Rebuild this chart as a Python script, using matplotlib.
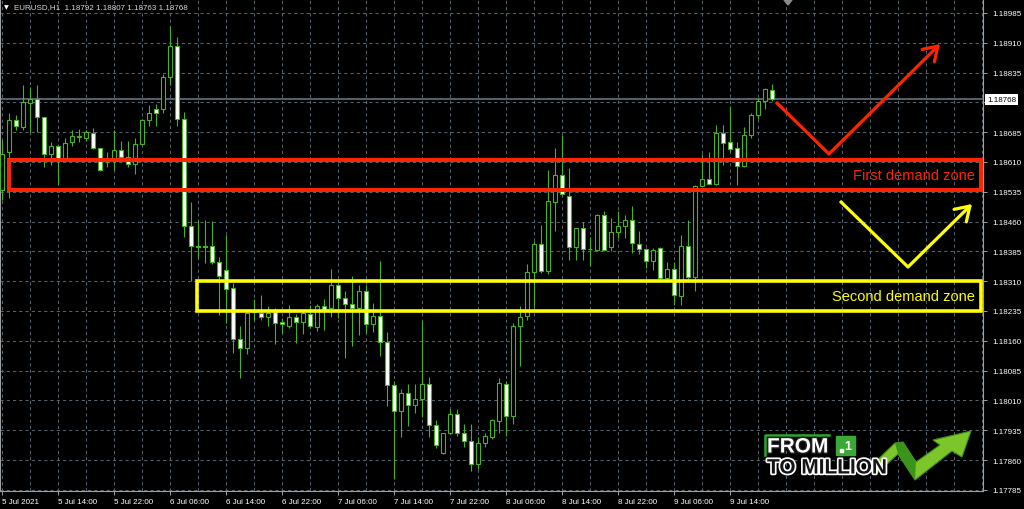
import numpy as np
import matplotlib
matplotlib.use('Agg')
import matplotlib.pyplot as plt
from matplotlib.patches import Rectangle, Polygon
import matplotlib.patheffects as pe

# EURUSD H1 candles, bar 0 = 5 Jul 2021 06:00
opens = [1.18540, 1.18634, 1.18715, 1.18698, 1.18759, 1.18769, 1.18722, 1.18631, 1.18650, 1.18619,
         1.18659, 1.18674, 1.18671, 1.18684, 1.18644, 1.18611, 1.18615, 1.18640, 1.18623, 1.18604,
         1.18654, 1.18715, 1.18743, 1.18742, 1.18824, 1.18901, 1.18717, 1.18450, 1.18397, 1.18398,
         1.18399, 1.18357, 1.18337, 1.18293, 1.18165, 1.18142, 1.18233, 1.18230, 1.18220, 1.18233,
         1.18207, 1.18197, 1.18219, 1.18208, 1.18228, 1.18194, 1.18247, 1.18243, 1.18301, 1.18268,
         1.18253, 1.18243, 1.18286, 1.18201, 1.18223, 1.18157, 1.18048, 1.17983, 1.18028, 1.17999,
         1.18013, 1.18052, 1.17948, 1.17877, 1.17927, 1.17975, 1.17929, 1.17907, 1.17850, 1.17902,
         1.17917, 1.17958, 1.18052, 1.17971, 1.18197, 1.18222, 1.18333, 1.18403, 1.18335, 1.18510,
         1.18577, 1.18524, 1.18396, 1.18443, 1.18391, 1.18389, 1.18477, 1.18397, 1.18433, 1.18450,
         1.18463, 1.18403, 1.18391, 1.18361, 1.18393, 1.18318, 1.18341, 1.18272, 1.18399, 1.18320,
         1.18550, 1.18566, 1.18555, 1.18683, 1.18661, 1.18644, 1.18600, 1.18677, 1.18729, 1.18763,
         1.18792]
highs = [1.18665, 1.18732, 1.18728, 1.18803, 1.18799, 1.18803, 1.18723, 1.18661, 1.18652, 1.18671,
         1.18690, 1.18694, 1.18690, 1.18696, 1.18646, 1.18636, 1.18690, 1.18662, 1.18662, 1.18669,
         1.18719, 1.18754, 1.18757, 1.18832, 1.18952, 1.18924, 1.18736, 1.18510, 1.18464, 1.18464,
         1.18462, 1.18372, 1.18425, 1.18305, 1.18197, 1.18233, 1.18264, 1.18276, 1.18247, 1.18243,
         1.18218, 1.18249, 1.18228, 1.18236, 1.18249, 1.18253, 1.18264, 1.18341, 1.18305, 1.18284,
         1.18322, 1.18301, 1.18301, 1.18255, 1.18361, 1.18182, 1.18059, 1.18038, 1.18050, 1.18050,
         1.18209, 1.18069, 1.17960, 1.17929, 1.17988, 1.17988, 1.17950, 1.17950, 1.17917, 1.17927,
         1.17963, 1.18067, 1.18059, 1.18205, 1.18247, 1.18353, 1.18412, 1.18452, 1.18590, 1.18646,
         1.18677, 1.18594, 1.18445, 1.18460, 1.18422, 1.18478, 1.18487, 1.18470, 1.18487, 1.18477,
         1.18498, 1.18435, 1.18393, 1.18393, 1.18395, 1.18357, 1.18357, 1.18425, 1.18464, 1.18552,
         1.18631, 1.18636, 1.18704, 1.18702, 1.18751, 1.18661, 1.18698, 1.18732, 1.18771, 1.18796,
         1.18807]
lows = [1.18514, 1.18519, 1.18690, 1.18690, 1.18686, 1.18686, 1.18598, 1.18602, 1.18552, 1.18609,
        1.18650, 1.18659, 1.18662, 1.18642, 1.18588, 1.18598, 1.18590, 1.18621, 1.18598, 1.18579,
        1.18652, 1.18701, 1.18701, 1.18734, 1.18803, 1.18701, 1.18422, 1.18310, 1.18368, 1.18356,
        1.18353, 1.18226, 1.18205, 1.18130, 1.18067, 1.18127, 1.18213, 1.18213, 1.18197, 1.18151,
        1.18180, 1.18191, 1.18155, 1.18176, 1.18192, 1.18184, 1.18188, 1.18219, 1.18218, 1.18117,
        1.18146, 1.18174, 1.18180, 1.18182, 1.18121, 1.17996, 1.17812, 1.17917, 1.17946, 1.17979,
        1.17967, 1.17918, 1.17890, 1.17875, 1.17925, 1.17921, 1.17892, 1.17833, 1.17837, 1.17892,
        1.17913, 1.17929, 1.17921, 1.17950, 1.18096, 1.18213, 1.18244, 1.18330, 1.18328, 1.18435,
        1.18527, 1.18364, 1.18364, 1.18364, 1.18347, 1.18387, 1.18387, 1.18387, 1.18418, 1.18418,
        1.18381, 1.18378, 1.18343, 1.18339, 1.18314, 1.18314, 1.18249, 1.18251, 1.18316, 1.18286,
        1.18548, 1.18554, 1.18552, 1.18602, 1.18636, 1.18552, 1.18598, 1.18671, 1.18717, 1.18743,
        1.18763]
closes = [1.18631, 1.18715, 1.18701, 1.18761, 1.18769, 1.18722, 1.18631, 1.18650, 1.18619, 1.18658,
          1.18676, 1.18676, 1.18686, 1.18644, 1.18590, 1.18609, 1.18640, 1.18623, 1.18605, 1.18654,
          1.18715, 1.18733, 1.18732, 1.18824, 1.18901, 1.18717, 1.18450, 1.18399, 1.18396, 1.18396,
          1.18357, 1.18322, 1.18291, 1.18165, 1.18142, 1.18230, 1.18234, 1.18220, 1.18230, 1.18205,
          1.18201, 1.18219, 1.18208, 1.18230, 1.18197, 1.18247, 1.18238, 1.18301, 1.18268, 1.18253,
          1.18243, 1.18284, 1.18201, 1.18223, 1.18157, 1.18048, 1.17983, 1.18028, 1.17999, 1.18013,
          1.18052, 1.17948, 1.17897, 1.17927, 1.17975, 1.17927, 1.17907, 1.17850, 1.17903, 1.17921,
          1.17960, 1.18055, 1.17971, 1.18197, 1.18219, 1.18333, 1.18403, 1.18335, 1.18512, 1.18577,
          1.18529, 1.18396, 1.18443, 1.18391, 1.18390, 1.18477, 1.18389, 1.18433, 1.18450, 1.18463,
          1.18406, 1.18391, 1.18361, 1.18389, 1.18318, 1.18341, 1.18274, 1.18399, 1.18320, 1.18550,
          1.18566, 1.18555, 1.18683, 1.18658, 1.18642, 1.18600, 1.18677, 1.18729, 1.18763, 1.18793,
          1.18768]

price_levels = [1.18985, 1.18910, 1.18835, 1.18760, 1.18685, 1.18610, 1.18535, 1.18460, 1.18385,
                1.18310, 1.18235, 1.18160, 1.18085, 1.18010, 1.17935, 1.17860, 1.17785]
time_ticks = [0, 8, 16, 24, 32, 40, 48, 56, 64, 72, 80, 88, 96, 104]
time_labels = ['5 Jul 2021', '5 Jul 14:00', '5 Jul 22:00', '6 Jul 06:00', '6 Jul 14:00',
               '6 Jul 22:00', '7 Jul 06:00', '7 Jul 14:00', '7 Jul 22:00', '8 Jul 06:00',
               '8 Jul 14:00', '8 Jul 22:00', '9 Jul 06:00', '9 Jul 14:00']
last_price = 1.18768

# demand zones (price bands + first bar they start at)
first_zone = (1.18540, 1.18615)
first_zone_start = 1.1
second_zone = (1.18236, 1.18311)
second_zone_start = 27.85

green = '#46b320'
font = 'Liberation Sans'

fig = plt.figure(figsize=(10.24, 5.10), dpi=100, facecolor='black')
ax = fig.add_axes([0, 18 / 510, 983 / 1024, 492 / 510])
ax.set_facecolor('black')

x = np.arange(len(opens))
o = np.array(opens)
h = np.array(highs)
l = np.array(lows)
c = np.array(closes)
up = c >= o

# candles
ax.vlines(x, l, h, color=green, lw=0.8, zorder=3)
body_bottom = np.minimum(o, c)
body_height = np.maximum(np.abs(c - o), 0.00002)
ax.bar(x, body_height, bottom=body_bottom, width=0.62,
       color=np.where(up, 'black', 'white'), edgecolor=green, linewidth=0.8, zorder=4)

# current price line
ax.axhline(last_price, color='#6e7b88', lw=1.1, zorder=2)

xmax = 140.19
ax.set_xlim(-0.243, xmax)
ax.set_ylim(1.17782, 1.19020)

# zones
for (lo, hi), start, col, lw in [(first_zone, first_zone_start, '#ff2400', 2.9),
                                 (second_zone, second_zone_start, '#ffff00', 2.6)]:
    ax.add_patch(Rectangle((start, lo), 139.85 - start, hi - lo, fill=False,
                           edgecolor=col, lw=lw, zorder=6))
ax.text(139.0, sum(first_zone) / 2, 'First demand zone', color='#ff2400', fontsize=10.5,
        family=font, ha='right', va='center', zorder=7)
ax.text(139.0, sum(second_zone) / 2, 'Second demand zone', color='#ffff00', fontsize=10.5,
        family=font, ha='right', va='center', zorder=7)

# grid + axes
ax.set_yticks(price_levels)
ax.set_yticklabels(['' if abs(p - 1.18760) < 1e-7 else f'{p:.5f}' for p in price_levels])
ax.yaxis.tick_right()
ax.set_xticks(time_ticks)
ax.set_xticks(np.arange(0, 141, 4), minor=True)
ax.set_xticklabels(time_labels, ha='left')
ax.tick_params(axis='both', which='major', colors='#a0a0a0', labelcolor='white',
               labelsize=5.8, length=3, width=0.7)
ax.tick_params(axis='x', which='major', pad=2)
ax.tick_params(axis='y', which='major', pad=4)
ax.tick_params(axis='x', which='minor', length=0)
for lab in ax.get_xticklabels() + ax.get_yticklabels():
    lab.set_family(font)
ax.grid(True, which='both', color='#55636f', linestyle=(0, (3, 3)), lw=0.75, zorder=1)
ax.set_axisbelow(True)
for side in ['left', 'right', 'bottom', 'top']:
    ax.spines[side].set_color('#a0a0a0')
    ax.spines[side].set_linewidth(0.8)
ax.spines['top'].set_visible(False)

# current price tag on the price scale
ax.text(1.004, last_price, f'{last_price:.5f}', transform=ax.get_yaxis_transform(),
        color='black', fontsize=5.8, family=font, va='center', ha='left', zorder=8,
        bbox=dict(boxstyle='square,pad=0.25', fc='white', ec='none'), clip_on=False)

# overlay in pixel units for header, arrows and logo
ov = fig.add_axes([0, 0, 1, 1])
ov.set_xlim(0, 1024)
ov.set_ylim(510, 0)
ov.axis('off')
ov.patch.set_alpha(0)

ov.text(4, 8, '\u25bc', color='white', fontsize=4.5, va='center', family='DejaVu Sans')
ov.text(14, 8, 'EURUSD,H1  1.18792 1.18807 1.18763 1.18768', color='#d8d8d8',
        fontsize=5.8, va='center', family=font)
ov.add_patch(Polygon([(784, 1), (792, 1), (788, 6)], closed=True, color='#8a8a8a'))

# expected moves
ov.plot([776, 829], [103, 155], color='#ff2400', lw=2.3, solid_capstyle='butt')
ov.annotate('', xy=(940, 45), xytext=(829, 155),
            arrowprops=dict(arrowstyle='->,head_length=0.7,head_width=0.45', color='#ff2400',
                            lw=2.3, mutation_scale=14, shrinkA=0, shrinkB=0))
ov.plot([840, 908], [202, 268], color='#ffff00', lw=2.3, solid_capstyle='butt')
ov.annotate('', xy=(972, 205), xytext=(908, 268),
            arrowprops=dict(arrowstyle='->,head_length=0.7,head_width=0.45', color='#ffff00',
                            lw=2.3, mutation_scale=14, shrinkA=0, shrinkB=0))

# logo
ov.plot([765, 765, 829], [456, 436, 436], color='#2fa52a', lw=1.8)
ov.text(767, 448, 'FROM', color='white', fontsize=15, fontweight='bold', family=font,
        va='center', ha='left',
        path_effects=[pe.withStroke(linewidth=2, foreground='#202020')])
ov.add_patch(Rectangle((836, 437), 19, 19, color='#3aa935'))
ov.text(848, 447, '1', color='white', fontsize=9, fontweight='bold', family=font,
        va='center', ha='center')
ov.add_patch(Rectangle((840, 450), 3, 3, color='white'))
ov.text(767, 469, 'TO MILLION', color='#151515', fontsize=15, fontweight='bold', family=font,
        va='center', ha='left',
        path_effects=[pe.withStroke(linewidth=2.5, foreground='white')])
ov.add_patch(Polygon([(868, 470), (895, 444), (903, 443), (916, 463), (940, 446),
                      (933, 441), (971, 432), (962, 458), (952, 452), (915, 481),
                      (898, 455), (876, 475)], closed=True, fc='#7cc52a', ec='#3e8f1a', lw=0.8))
ov.add_patch(Polygon([(895, 444), (903, 443), (916, 463), (915, 481), (898, 455)],
                     closed=True, fc='#3a941c', ec='none'))

fig.savefig('out.png', dpi=100, facecolor='black')
